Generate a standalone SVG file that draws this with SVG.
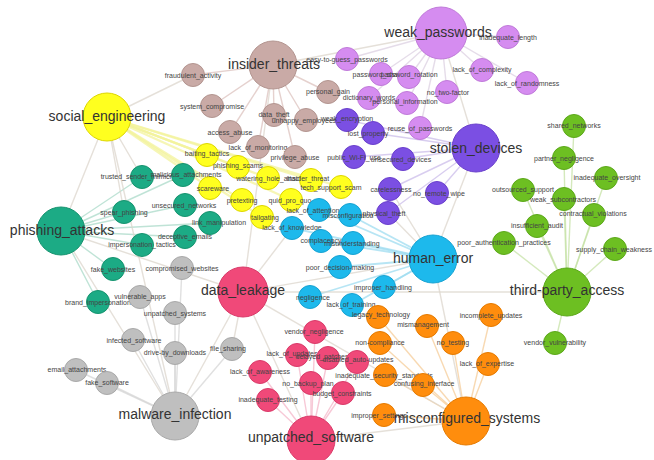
<svg xmlns="http://www.w3.org/2000/svg" width="654" height="460" viewBox="0 0 654 460">
<style>
text{font-family:"Liberation Sans",Arial,sans-serif;text-anchor:middle}
.l{font-size:7px;fill:#444}
.h{font-size:14px;fill:#333}
circle{stroke-width:1}
.it{fill:#c9aaa6;stroke:#b39590}
.wp{fill:#d58cf0;stroke:#c07bd9}
.sd{fill:#7b4fe3;stroke:#6a40cc}
.se{fill:#ffff1f;stroke:#ddd600}
.pa{fill:#1cab85;stroke:#16936f}
.mi{fill:#bfbfbf;stroke:#a9a9a9}
.he{fill:#1db9ec;stroke:#17a2d2}
.tp{fill:#6dbf22;stroke:#5ca81a}
.ms{fill:#ff8d0d;stroke:#e57a00}
.us{fill:#f04979;stroke:#d93a69}
#edges line{stroke-width:1.4;stroke-opacity:0.75}
.eit{stroke:#dcc2be}
.ewp{stroke:#dcd0e2}
.esd{stroke:#cbbcea}
#edges .ese{stroke:#f3f39c;stroke-width:2.2}
.epa{stroke:#a9d9c8}
.emi{stroke:#d5d5d5}
#edges .ehe{stroke:#9fdcf0;stroke-width:1.8}
.etp{stroke:#c6e2a6}
.ems{stroke:#f5cc98}
.eus{stroke:#f4b6c8}
.ex{stroke:#dcd6cc}
</style>
<rect width="654" height="460" fill="#ffffff"/>
<g id="edges">
<line class="eit" x1="273" y1="65" x2="193" y2="75"/>
<line class="eit" x1="273" y1="65" x2="212" y2="106"/>
<line class="eit" x1="273" y1="65" x2="230" y2="132"/>
<line class="eit" x1="273" y1="65" x2="258" y2="147"/>
<line class="eit" x1="273" y1="65" x2="274" y2="115"/>
<line class="eit" x1="273" y1="65" x2="306" y2="120"/>
<line class="eit" x1="273" y1="65" x2="328" y2="92"/>
<line class="eit" x1="273" y1="65" x2="295" y2="157"/>
<line class="ewp" x1="441" y1="33" x2="347" y2="59"/>
<line class="ewp" x1="441" y1="33" x2="381" y2="74"/>
<line class="ewp" x1="441" y1="33" x2="409" y2="77"/>
<line class="ewp" x1="441" y1="33" x2="369" y2="98"/>
<line class="ewp" x1="441" y1="33" x2="407" y2="103"/>
<line class="ewp" x1="441" y1="33" x2="447" y2="92"/>
<line class="ewp" x1="441" y1="33" x2="482" y2="70"/>
<line class="ewp" x1="441" y1="33" x2="508" y2="37"/>
<line class="ewp" x1="441" y1="33" x2="527" y2="83"/>
<line class="ewp" x1="441" y1="33" x2="420" y2="128"/>
<line class="esd" x1="476" y1="148" x2="347" y2="120"/>
<line class="esd" x1="476" y1="148" x2="373" y2="133"/>
<line class="esd" x1="476" y1="148" x2="354" y2="157"/>
<line class="esd" x1="476" y1="148" x2="403" y2="159"/>
<line class="esd" x1="476" y1="148" x2="390" y2="189"/>
<line class="esd" x1="476" y1="148" x2="437" y2="193"/>
<line class="esd" x1="476" y1="148" x2="388" y2="213"/>
<line class="ese" x1="107" y1="117" x2="207" y2="155"/>
<line class="ese" x1="107" y1="117" x2="238" y2="167"/>
<line class="ese" x1="107" y1="117" x2="268" y2="178"/>
<line class="ese" x1="107" y1="117" x2="210" y2="188"/>
<line class="ese" x1="107" y1="117" x2="311" y2="180"/>
<line class="ese" x1="107" y1="117" x2="341" y2="187"/>
<line class="ese" x1="107" y1="117" x2="242" y2="200"/>
<line class="ese" x1="107" y1="117" x2="291" y2="200"/>
<line class="ese" x1="107" y1="117" x2="262" y2="217"/>
<line class="epa" x1="61" y1="231" x2="142" y2="177"/>
<line class="epa" x1="61" y1="231" x2="183" y2="175"/>
<line class="epa" x1="61" y1="231" x2="124" y2="212"/>
<line class="epa" x1="61" y1="231" x2="185" y2="205"/>
<line class="epa" x1="61" y1="231" x2="210" y2="223"/>
<line class="epa" x1="61" y1="231" x2="185" y2="237"/>
<line class="epa" x1="61" y1="231" x2="142" y2="245"/>
<line class="epa" x1="61" y1="231" x2="113" y2="269"/>
<line class="epa" x1="61" y1="231" x2="98" y2="302"/>
<line class="emi" x1="175" y1="416" x2="182" y2="268"/>
<line class="emi" x1="175" y1="416" x2="140" y2="297"/>
<line class="emi" x1="175" y1="416" x2="175" y2="313"/>
<line class="emi" x1="175" y1="416" x2="133" y2="340"/>
<line class="emi" x1="175" y1="416" x2="175" y2="353"/>
<line class="emi" x1="175" y1="416" x2="232" y2="349"/>
<line class="emi" x1="175" y1="416" x2="76" y2="370"/>
<line class="emi" x1="175" y1="416" x2="107" y2="383"/>
<line class="ehe" x1="433" y1="259" x2="319" y2="210"/>
<line class="ehe" x1="433" y1="259" x2="350" y2="215"/>
<line class="ehe" x1="433" y1="259" x2="292" y2="228"/>
<line class="ehe" x1="433" y1="259" x2="321" y2="241"/>
<line class="ehe" x1="433" y1="259" x2="353" y2="243"/>
<line class="ehe" x1="433" y1="259" x2="340" y2="267"/>
<line class="ehe" x1="433" y1="259" x2="384" y2="287"/>
<line class="ehe" x1="433" y1="259" x2="310" y2="297"/>
<line class="ehe" x1="433" y1="259" x2="352" y2="305"/>
<line class="etp" x1="567" y1="292" x2="574" y2="126"/>
<line class="etp" x1="567" y1="292" x2="564" y2="158"/>
<line class="etp" x1="567" y1="292" x2="606" y2="178"/>
<line class="etp" x1="567" y1="292" x2="523" y2="190"/>
<line class="etp" x1="567" y1="292" x2="564" y2="199"/>
<line class="etp" x1="567" y1="292" x2="594" y2="215"/>
<line class="etp" x1="567" y1="292" x2="537" y2="226"/>
<line class="etp" x1="567" y1="292" x2="504" y2="243"/>
<line class="etp" x1="567" y1="292" x2="615" y2="249"/>
<line class="etp" x1="567" y1="292" x2="555" y2="343"/>
<line class="ems" x1="466" y1="421" x2="378" y2="317"/>
<line class="ems" x1="466" y1="421" x2="427" y2="326"/>
<line class="ems" x1="466" y1="421" x2="491" y2="315"/>
<line class="ems" x1="466" y1="421" x2="453" y2="343"/>
<line class="ems" x1="466" y1="421" x2="380" y2="343"/>
<line class="ems" x1="466" y1="421" x2="488" y2="364"/>
<line class="ems" x1="466" y1="421" x2="385" y2="375"/>
<line class="ems" x1="466" y1="421" x2="423" y2="385"/>
<line class="ems" x1="466" y1="421" x2="384" y2="415"/>
<line class="eus" x1="311" y1="440" x2="315" y2="332"/>
<line class="eus" x1="311" y1="440" x2="297" y2="355"/>
<line class="eus" x1="311" y1="440" x2="328" y2="358"/>
<line class="eus" x1="311" y1="440" x2="357" y2="362"/>
<line class="eus" x1="311" y1="440" x2="260" y2="372"/>
<line class="eus" x1="311" y1="440" x2="311" y2="383"/>
<line class="eus" x1="311" y1="440" x2="343" y2="393"/>
<line class="eus" x1="311" y1="440" x2="268" y2="400"/>
<line class="ex" x1="107" y1="117" x2="61" y2="231"/>
<line class="ex" x1="107" y1="117" x2="124" y2="212"/>
<line class="ex" x1="107" y1="117" x2="142" y2="177"/>
<line class="ex" x1="107" y1="117" x2="193" y2="75"/>
<line class="ex" x1="107" y1="117" x2="175" y2="416"/>
<line class="ex" x1="61" y1="231" x2="175" y2="416"/>
<line class="ex" x1="61" y1="231" x2="243" y2="292"/>
<line class="ex" x1="273" y1="65" x2="243" y2="292"/>
<line class="ex" x1="273" y1="65" x2="441" y2="33"/>
<line class="ex" x1="441" y1="33" x2="476" y2="148"/>
<line class="ex" x1="476" y1="148" x2="433" y2="259"/>
<line class="ex" x1="390" y1="189" x2="433" y2="259"/>
<line class="ex" x1="388" y1="213" x2="433" y2="259"/>
<line class="ex" x1="243" y1="292" x2="433" y2="259"/>
<line class="ex" x1="243" y1="292" x2="567" y2="292"/>
<line class="ex" x1="243" y1="292" x2="311" y2="440"/>
<line class="ex" x1="243" y1="292" x2="175" y2="416"/>
<line class="ex" x1="243" y1="292" x2="466" y2="421"/>
<line class="ex" x1="243" y1="292" x2="232" y2="349"/>
<line class="ex" x1="243" y1="292" x2="292" y2="228"/>
<line class="ex" x1="433" y1="259" x2="466" y2="421"/>
<line class="ex" x1="311" y1="440" x2="466" y2="421"/>
</g>
<g id="n-fraudulent_activity"><circle class="it" cx="193" cy="75" r="11.5"/><text class="l" x="193" y="77.5">fraudulent_activity</text></g>
<g id="n-system_compromise"><circle class="it" cx="212" cy="106" r="11.5"/><text class="l" x="212" y="108.5">system_compromise</text></g>
<g id="n-access_abuse"><circle class="it" cx="230" cy="132" r="11.5"/><text class="l" x="230" y="134.5">access_abuse</text></g>
<g id="n-lack_of_monitoring"><circle class="it" cx="258" cy="147" r="11.5"/><text class="l" x="258" y="149.5">lack_of_monitoring</text></g>
<g id="n-data_theft"><circle class="it" cx="274" cy="115" r="11.5"/><text class="l" x="274" y="117">data_theft</text></g>
<g id="n-unhappy_employees"><circle class="it" cx="306" cy="120" r="11.5"/><text class="l" x="304" y="122.5">unhappy_employees</text></g>
<g id="n-personal_gain"><circle class="it" cx="328" cy="92" r="11.5"/><text class="l" x="328" y="94">personal_gain</text></g>
<g id="n-privilege_abuse"><circle class="it" cx="295" cy="157" r="11.5"/><text class="l" x="295" y="159.5">privilege_abuse</text></g>
<g id="n-easy-to-guess_passwords"><circle class="wp" cx="347" cy="59" r="11.5"/><text class="l" x="347" y="61.5">easy-to-guess_passwords</text></g>
<g id="n-password_sharing"><circle class="wp" cx="381" cy="74" r="11.5"/><text class="l" x="381" y="77">password_sharing</text></g>
<g id="n-password_rotation"><circle class="wp" cx="409" cy="77" r="11.5"/><text class="l" x="409" y="77">password_rotation</text></g>
<g id="n-dictionary_words"><circle class="wp" cx="369" cy="98" r="11.5"/><text class="l" x="369" y="99.5">dictionary_words</text></g>
<g id="n-personal_information"><circle class="wp" cx="407" cy="103" r="11.5"/><text class="l" x="405" y="104">personal_information</text></g>
<g id="n-no_two-factor"><circle class="wp" cx="447" cy="92" r="11.5"/><text class="l" x="448" y="94.5">no_two-factor</text></g>
<g id="n-lack_of_complexity"><circle class="wp" cx="482" cy="70" r="11.5"/><text class="l" x="482" y="72">lack_of_complexity</text></g>
<g id="n-inadequate_length"><circle class="wp" cx="508" cy="37" r="11.5"/><text class="l" x="508" y="39.5">inadequate_length</text></g>
<g id="n-lack_of_randomness"><circle class="wp" cx="527" cy="83" r="11.5"/><text class="l" x="527" y="85.5">lack_of_randomness</text></g>
<g id="n-reuse_of_passwords"><circle class="wp" cx="420" cy="128" r="11.5"/><text class="l" x="420" y="131">reuse_of_passwords</text></g>
<g id="n-weak_encryption"><circle class="sd" cx="347" cy="120" r="11.5"/><text class="l" x="347" y="120.5">weak_encryption</text></g>
<g id="n-lost_property"><circle class="sd" cx="373" cy="133" r="11.5"/><text class="l" x="368" y="136">lost_property</text></g>
<g id="n-public_Wi-Fi_use"><circle class="sd" cx="354" cy="157" r="11.5"/><text class="l" x="354" y="159.5">public_Wi-Fi_use</text></g>
<g id="n-unsecured_devices"><circle class="sd" cx="403" cy="159" r="11.5"/><text class="l" x="401" y="162">unsecured_devices</text></g>
<g id="n-carelessness"><circle class="sd" cx="390" cy="189" r="11.5"/><text class="l" x="391" y="191.5">carelessness</text></g>
<g id="n-no_remote_wipe"><circle class="sd" cx="437" cy="193" r="11.5"/><text class="l" x="439" y="195.5">no_remote_wipe</text></g>
<g id="n-physical_theft"><circle class="sd" cx="388" cy="213" r="11.5"/><text class="l" x="384" y="215.5">physical_theft</text></g>
<g id="n-baiting_tactics"><circle class="se" cx="207" cy="155" r="11.5"/><text class="l" x="207" y="155.5">baiting_tactics</text></g>
<g id="n-phishing_scams"><circle class="se" cx="238" cy="167" r="11.5"/><text class="l" x="238" y="168">phishing_scams</text></g>
<g id="n-watering_hole_attacks"><circle class="se" cx="268" cy="178" r="11.5"/><text class="l" x="271" y="180.5">watering_hole_attacks</text></g>
<g id="n-scareware"><circle class="se" cx="210" cy="188" r="11.5"/><text class="l" x="213" y="191">scareware</text></g>
<g id="n-insider_threat"><circle class="se" cx="311" cy="180" r="11.5"/><text class="l" x="308" y="180.5">insider_threat</text></g>
<g id="n-tech_support_scam"><circle class="se" cx="341" cy="187" r="11.5"/><text class="l" x="331" y="189.5">tech_support_scam</text></g>
<g id="n-pretexting"><circle class="se" cx="242" cy="200" r="11.5"/><text class="l" x="242" y="202.5">pretexting</text></g>
<g id="n-quid_pro_quo"><circle class="se" cx="291" cy="200" r="11.5"/><text class="l" x="290" y="202.5">quid_pro_quo</text></g>
<g id="n-tailgating"><circle class="se" cx="262" cy="217" r="11.5"/><text class="l" x="265" y="219.5">tailgating</text></g>
<g id="n-trusted_sender_mimicry"><circle class="pa" cx="142" cy="177" r="11.5"/><text class="l" x="138" y="178.5">trusted_sender_mimicry</text></g>
<g id="n-malicious_attachments"><circle class="pa" cx="183" cy="175" r="11.5"/><text class="l" x="186" y="176.5">malicious_attachments</text></g>
<g id="n-spear_phishing"><circle class="pa" cx="124" cy="212" r="11.5"/><text class="l" x="124" y="214.5">spear_phishing</text></g>
<g id="n-unsecured_networks"><circle class="pa" cx="185" cy="205" r="11.5"/><text class="l" x="184" y="207.5">unsecured_networks</text></g>
<g id="n-link_manipulation"><circle class="pa" cx="210" cy="223" r="11.5"/><text class="l" x="219" y="225">link_manipulation</text></g>
<g id="n-deceptive_emails"><circle class="pa" cx="185" cy="237" r="11.5"/><text class="l" x="185" y="238.5">deceptive_emails</text></g>
<g id="n-impersonation_tactics"><circle class="pa" cx="142" cy="245" r="11.5"/><text class="l" x="142" y="246.5">impersonation_tactics</text></g>
<g id="n-fake_websites"><circle class="pa" cx="113" cy="269" r="11.5"/><text class="l" x="113" y="271.5">fake_websites</text></g>
<g id="n-brand_impersonation"><circle class="pa" cx="98" cy="302" r="11.5"/><text class="l" x="98" y="305">brand_impersonation</text></g>
<g id="n-compromised_websites"><circle class="mi" cx="182" cy="268" r="11.5"/><text class="l" x="182" y="270.5">compromised_websites</text></g>
<g id="n-vulnerable_apps"><circle class="mi" cx="140" cy="297" r="11.5"/><text class="l" x="140" y="298.5">vulnerable_apps</text></g>
<g id="n-unpatched_systems"><circle class="mi" cx="175" cy="313" r="11.5"/><text class="l" x="175" y="316">unpatched_systems</text></g>
<g id="n-infected_software"><circle class="mi" cx="133" cy="340" r="11.5"/><text class="l" x="134" y="342.5">infected_software</text></g>
<g id="n-drive-by_downloads"><circle class="mi" cx="175" cy="353" r="11.5"/><text class="l" x="175" y="354.5">drive-by_downloads</text></g>
<g id="n-file_sharing"><circle class="mi" cx="232" cy="349" r="11.5"/><text class="l" x="228" y="350.5">file_sharing</text></g>
<g id="n-email_attachments"><circle class="mi" cx="76" cy="370" r="11.5"/><text class="l" x="77" y="371.5">email_attachments</text></g>
<g id="n-fake_software"><circle class="mi" cx="107" cy="383" r="11.5"/><text class="l" x="107" y="384.5">fake_software</text></g>
<g id="n-lack_of_attention"><circle class="he" cx="319" cy="210" r="11.5"/><text class="l" x="313" y="212.5">lack_of_attention</text></g>
<g id="n-misconfiguration"><circle class="he" cx="350" cy="215" r="11.5"/><text class="l" x="348" y="217.5">misconfiguration</text></g>
<g id="n-lack_of_knowledge"><circle class="he" cx="292" cy="228" r="11.5"/><text class="l" x="292" y="229.5">lack_of_knowledge</text></g>
<g id="n-complacency"><circle class="he" cx="321" cy="241" r="11.5"/><text class="l" x="321" y="242.5">complacency</text></g>
<g id="n-misunderstanding"><circle class="he" cx="353" cy="243" r="11.5"/><text class="l" x="352" y="245.5">misunderstanding</text></g>
<g id="n-poor_decision-making"><circle class="he" cx="340" cy="267" r="11.5"/><text class="l" x="340" y="269.5">poor_decision-making</text></g>
<g id="n-improper_handling"><circle class="he" cx="384" cy="287" r="11.5"/><text class="l" x="383" y="289.5">improper_handling</text></g>
<g id="n-negligence"><circle class="he" cx="310" cy="297" r="11.5"/><text class="l" x="313" y="299.5">negligence</text></g>
<g id="n-lack_of_training"><circle class="he" cx="352" cy="305" r="11.5"/><text class="l" x="351" y="306.5">lack_of_training</text></g>
<g id="n-shared_networks"><circle class="tp" cx="574" cy="126" r="11.5"/><text class="l" x="574" y="127.5">shared_networks</text></g>
<g id="n-partner_negligence"><circle class="tp" cx="564" cy="158" r="11.5"/><text class="l" x="564" y="160.5">partner_negligence</text></g>
<g id="n-inadequate_oversight"><circle class="tp" cx="606" cy="178" r="11.5"/><text class="l" x="607" y="179.5">inadequate_oversight</text></g>
<g id="n-outsourced_support"><circle class="tp" cx="523" cy="190" r="11.5"/><text class="l" x="523" y="191.5">outsourced_support</text></g>
<g id="n-weak_subcontractors"><circle class="tp" cx="564" cy="199" r="11.5"/><text class="l" x="563" y="201.5">weak_subcontractors</text></g>
<g id="n-contractual_violations"><circle class="tp" cx="594" cy="215" r="11.5"/><text class="l" x="593" y="215.5">contractual_violations</text></g>
<g id="n-insufficient_audit"><circle class="tp" cx="537" cy="226" r="11.5"/><text class="l" x="537" y="227.5">insufficient_audit</text></g>
<g id="n-poor_authentication_practices"><circle class="tp" cx="504" cy="243" r="11.5"/><text class="l" x="504" y="244.5">poor_authentication_practices</text></g>
<g id="n-supply_chain_weakness"><circle class="tp" cx="615" cy="249" r="11.5"/><text class="l" x="614" y="251.5">supply_chain_weakness</text></g>
<g id="n-vendor_vulnerability"><circle class="tp" cx="555" cy="343" r="11.5"/><text class="l" x="555" y="344.5">vendor_vulnerability</text></g>
<g id="n-legacy_technology"><circle class="ms" cx="378" cy="317" r="11.5"/><text class="l" x="381" y="316.5">legacy_technology</text></g>
<g id="n-mismanagement"><circle class="ms" cx="427" cy="326" r="11.5"/><text class="l" x="423" y="326.5">mismanagement</text></g>
<g id="n-incomplete_updates"><circle class="ms" cx="491" cy="315" r="11.5"/><text class="l" x="491" y="317.5">incomplete_updates</text></g>
<g id="n-no_testing"><circle class="ms" cx="453" cy="343" r="11.5"/><text class="l" x="453" y="344.5">no_testing</text></g>
<g id="n-non-compliance"><circle class="ms" cx="380" cy="343" r="11.5"/><text class="l" x="380" y="345">non-compliance</text></g>
<g id="n-lack_of_expertise"><circle class="ms" cx="488" cy="364" r="11.5"/><text class="l" x="487" y="365.5">lack_of_expertise</text></g>
<g id="n-inadequate_security_standards"><circle class="ms" cx="385" cy="375" r="11.5"/><text class="l" x="384" y="377.5">inadequate_security_standards</text></g>
<g id="n-confusing_interface"><circle class="ms" cx="423" cy="385" r="11.5"/><text class="l" x="424" y="385.5">confusing_interface</text></g>
<g id="n-improper_settings"><circle class="ms" cx="384" cy="415" r="11.5"/><text class="l" x="379" y="417.5">improper_settings</text></g>
<g id="n-vendor_negligence"><circle class="us" cx="315" cy="332" r="11.5"/><text class="l" x="314" y="333.5">vendor_negligence</text></g>
<g id="n-lack_of_updates"><circle class="us" cx="297" cy="355" r="11.5"/><text class="l" x="292" y="356">lack_of_updates</text></g>
<g id="n-delayed_patches"><circle class="us" cx="328" cy="358" r="11.5"/><text class="l" x="322" y="359">delayed_patches</text></g>
<g id="n-disabled_auto-updates"><circle class="us" cx="357" cy="362" r="11.5"/><text class="l" x="358" y="362">disabled_auto-updates</text></g>
<g id="n-lack_of_awareness"><circle class="us" cx="260" cy="372" r="11.5"/><text class="l" x="260" y="373.5">lack_of_awareness</text></g>
<g id="n-no_backup_plan"><circle class="us" cx="311" cy="383" r="11.5"/><text class="l" x="308" y="385.5">no_backup_plan</text></g>
<g id="n-budget_constraints"><circle class="us" cx="343" cy="393" r="11.5"/><text class="l" x="342" y="395.5">budget_constraints</text></g>
<g id="n-inadequate_testing"><circle class="us" cx="268" cy="400" r="11.5"/><text class="l" x="268" y="401.5">inadequate_testing</text></g>
<g id="n-insider_threats"><circle class="it" cx="273" cy="65" r="24"/><text class="h" x="274" y="69">insider_threats</text></g>
<g id="n-weak_passwords"><circle class="wp" cx="441" cy="33" r="26"/><text class="h" x="438" y="37">weak_passwords</text></g>
<g id="n-social_engineering"><circle class="se" cx="107" cy="117" r="24"/><text class="h" x="107" y="121">social_engineering</text></g>
<g id="n-stolen_devices"><circle class="sd" cx="476" cy="148" r="24"/><text class="h" x="476" y="153">stolen_devices</text></g>
<g id="n-phishing_attacks"><circle class="pa" cx="61" cy="231" r="24"/><text class="h" x="62" y="235">phishing_attacks</text></g>
<g id="n-human_error"><circle class="he" cx="433" cy="259" r="24"/><text class="h" x="433" y="263">human_error</text></g>
<g id="n-third-party_access"><circle class="tp" cx="567" cy="292" r="24"/><text class="h" x="567" y="295">third-party_access</text></g>
<g id="n-data_leakage"><circle class="us" cx="243" cy="292" r="25"/><text class="h" x="243" y="295">data_leakage</text></g>
<g id="n-malware_infection"><circle class="mi" cx="175" cy="416" r="24"/><text class="h" x="175" y="419">malware_infection</text></g>
<g id="n-unpatched_software"><circle class="us" cx="311" cy="440" r="24"/><text class="h" x="311" y="442">unpatched_software</text></g>
<g id="n-misconfigured_systems"><circle class="ms" cx="466" cy="421" r="24"/><text class="h" x="467" y="423">misconfigured_systems</text></g>
</svg>
